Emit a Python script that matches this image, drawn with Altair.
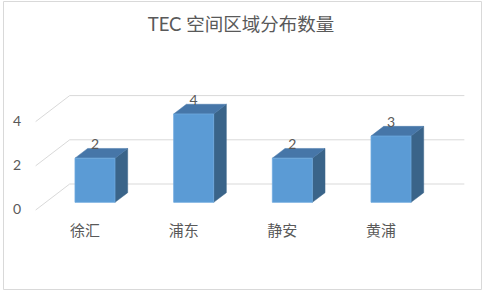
import altair as alt
import pandas as pd

# ---- data ----
categories = ["徐汇", "浦东", "静安", "黄浦"]
counts = [2, 4, 2, 3]
y_ticks = [0, 2, 4]
title_text = "TEC 空间区域分布数量"

# ---- layout / projection constants (pixels) ----
W, H = 478, 288            # plot view size
PAD = {"left": 3, "top": 1, "right": 3, "bottom": 2}
X0 = 85 - PAD["left"]      # pixel of category 0 on the front plane
STEP = 98.67               # pixels per category
Y0 = 210 - PAD["top"]      # pixel of value 0 on the front plane
UNIT = 22.1                # pixels per value unit
DEPTH_X, DEPTH_Y = 34, 26  # oblique depth of the floor (pixels)
BAR_W = 40
F1, F2 = 0.294, 0.667      # bar front / back depth fractions

x_dom = [(0 - X0) / STEP, (W - X0) / STEP]
y_dom = [(Y0 - H) / UNIT, Y0 / UNIT]
ddx = DEPTH_X / STEP
ddy = DEPTH_Y / UNIT
hw = BAR_W / 2 / STEP


def X(i, d):
    return i + ddx * d


def Y(v, d):
    return v + ddy * d


FRONT = "#5b9bd5"
TOP = "#4676a8"
SIDE = "#3a6489"
GRID = "#d9d9d9"
TXT = "#595959"
CJK = "Lato, 'Noto Sans CJK SC'"

xs = alt.Scale(domain=x_dom, nice=False, zero=False)
ys = alt.Scale(domain=y_dom, nice=False, zero=False)

# ---- tables built from the arrays ----
front_rows, top_rows, side_rows, lab_rows = [], [], [], []
bd, bdy = ddx * (F2 - F1), ddy * (F2 - F1)
for i, (c, v) in enumerate(zip(categories, counts)):
    xl, xr = X(i, F1) - hw, X(i, F1) + hw
    yb, yt = Y(0, F1), Y(v, F1)
    front_rows.append({"cat": c, "x": xl, "x2": xr, "y": yb, "y2": yt})
    for xx, up, lo in [(xl, yt, yt), (xl + bd, yt + bdy, yt),
                       (xr, yt + bdy, yt), (xr + bd, yt + bdy, yt + bdy)]:
        top_rows.append({"cat": c, "x": xx, "y": up, "y2": lo})
    for xx, up, lo in [(xr, yt, yb), (xr + bd, yt + bdy, yb + bdy)]:
        side_rows.append({"cat": c, "x": xx, "y": up, "y2": lo})
    lab_rows.append({"cat": c, "v": str(v), "cx": X(i, F1), "ly": Y(v, F2),
                     "fx": X(i, 0), "fy": Y(0, 0)})

n = len(categories)
grid_rows = []
for t in y_ticks:
    grid_rows.append({"t": str(t),
                      "bx": X(-0.5, 1), "bx2": X(n - 0.5, 1), "by": Y(t, 1),
                      "sx": X(-0.5, 0), "sy": Y(t, 0)})

front_df = pd.DataFrame(front_rows)
top_df = pd.DataFrame(top_rows)
side_df = pd.DataFrame(side_rows)
lab_df = pd.DataFrame(lab_rows)
grid_df = pd.DataFrame(grid_rows)

back_grid = alt.Chart(grid_df).mark_rule(color=GRID, strokeWidth=1).encode(
    x=alt.X("bx:Q", scale=xs, axis=None), x2="bx2:Q",
    y=alt.Y("by:Q", scale=ys, axis=None))

side_grid = alt.Chart(grid_df).mark_rule(color=GRID, strokeWidth=1).encode(
    x=alt.X("sx:Q", scale=xs, axis=None), x2="bx:Q",
    y=alt.Y("sy:Q", scale=ys, axis=None), y2="by:Q")

y_labels = alt.Chart(grid_df).mark_text(
    align="right", baseline="middle", dx=-14.5, fontSize=14,
    font="Lato", color=TXT).encode(
    x=alt.X("sx:Q", scale=xs, axis=None),
    y=alt.Y("sy:Q", scale=ys, axis=None), text="t:N")

side = alt.Chart(side_df).mark_area(
    orient="vertical", color=SIDE, stroke=SIDE, strokeWidth=0.5).encode(
    x=alt.X("x:Q", scale=xs, axis=None),
    y=alt.Y("y:Q", scale=ys, axis=None, stack=None), y2="y2:Q",
    detail="cat:N")

top = alt.Chart(top_df).mark_area(
    orient="vertical", color=TOP, stroke=TOP, strokeWidth=0.5).encode(
    x=alt.X("x:Q", scale=xs, axis=None),
    y=alt.Y("y:Q", scale=ys, axis=None, stack=None), y2="y2:Q",
    detail="cat:N")

front = alt.Chart(front_df).mark_rect(
    color=FRONT, stroke="#6fa9de", strokeWidth=0.8).encode(
    x=alt.X("x:Q", scale=xs, axis=None), x2="x2:Q",
    y=alt.Y("y:Q", scale=ys, axis=None), y2="y2:Q")

data_labels = alt.Chart(lab_df).mark_text(
    align="center", baseline="alphabetic", dy=0.5, fontSize=14,
    font="Lato", color=TXT).encode(
    x=alt.X("cx:Q", scale=xs, axis=None),
    y=alt.Y("ly:Q", scale=ys, axis=None), text="v:N")

cat_labels = alt.Chart(lab_df).mark_text(
    align="center", baseline="middle", dy=20.7, fontSize=15,
    font=CJK, color=TXT).encode(
    x=alt.X("fx:Q", scale=xs, axis=None),
    y=alt.Y("fy:Q", scale=ys, axis=None), text="cat:N")

title = alt.Chart(pd.DataFrame({"t": [title_text]})).mark_text(
    align="center", baseline="middle", fontSize=18.5, font=CJK,
    color=TXT).encode(
    x=alt.value(241 - PAD["left"]), y=alt.value(25 - PAD["top"]), text="t:N")

chart = alt.layer(back_grid, side_grid, y_labels, side, top, front,
                  data_labels, cat_labels, title).properties(
    width=W, height=H, padding=PAD,
    autosize=alt.AutoSizeParams(type="none"),
    background="white",
).configure_view(stroke="#d9d9d9", strokeWidth=1)

chart.save("out.html", embed_options={"renderer": "svg", "actions": False})
